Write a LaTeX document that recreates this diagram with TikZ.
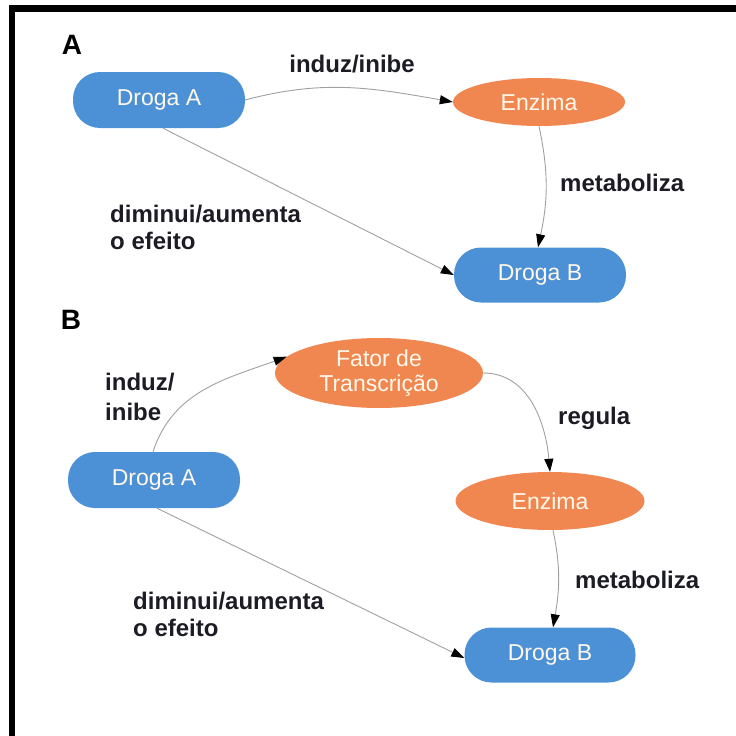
\documentclass[tikz,border=0pt]{standalone}
\usepackage{fontspec}
\setmainfont{Liberation Sans}
\usetikzlibrary{arrows.meta,shapes.geometric}
\definecolor{bluenode}{RGB}{76,145,213}
\definecolor{orangenode}{RGB}{240,135,80}
\definecolor{edgegray}{RGB}{160,160,160}
\definecolor{nodetext}{RGB}{255,248,235}
\definecolor{labeltext}{RGB}{28,28,36}
\tikzset{
  pill/.style={rectangle, rounded corners=27pt, fill=bluenode, draw=none, text=nodetext,
    font=\fontsize{23}{25}\selectfont, inner sep=0pt},
  oval/.style={ellipse, fill=orangenode, draw=none, text=nodetext,
    font=\fontsize{23}{25}\selectfont, inner sep=0pt, align=center},
  lbl/.style={text=labeltext, font=\bfseries\fontsize{24}{27}\selectfont, inner sep=0pt},
  big/.style={text=black, font=\bfseries\fontsize{28}{30}\selectfont, inner sep=0pt},
  edge/.style={draw=edgegray, line width=0.9pt, -{Triangle[length=13pt,width=9pt,color=black]}}
}
\begin{document}
\begin{tikzpicture}[x=1pt,y=1pt]
\useasboundingbox (0,0) rectangle (736,-736);
\fill[black] (9,-5) rectangle (736,-12);
\fill[black] (9,-5) rectangle (15,-736);

% ---- Panel A
\node[big] (labA) at (72,-45) {A};
\node[pill, minimum width=172pt, minimum height=56pt] (DA1) at (159,-100) {Droga A};
\node[oval, minimum width=172pt, minimum height=48pt] (EZ1) at (539,-102) {Enzima};
\node[pill, minimum width=172pt, minimum height=55pt] (DB1) at (540,-275) {Droga B};
\node[lbl] (ind1) at (352,-64) {induz/inibe};
\node[lbl, anchor=west] (met1) at (560,-183) {metaboliza};
\node[lbl, anchor=west, align=left] (dim1) at (110,-227) {diminui/aumenta\\o efeito};

\draw[edge] (DA1.east) to[out=15,in=170] (EZ1.west);
\draw[edge] (EZ1.south) to[out=-78,in=78] ([xshift=-2pt]DB1.north);
\draw[edge] ([xshift=4pt]DA1.south) -- (DB1.west);

% ---- Panel B
\node[big] (labB) at (71,-320) {B};
\node[oval, minimum width=208pt, minimum height=70pt] (FT) at (379,-373) {Fator de\\Transcrição};
\node[pill, minimum width=172pt, minimum height=56pt] (DA2) at (154,-480) {Droga A};
\node[oval, minimum width=189pt, minimum height=58pt] (EZ2) at (550,-501) {Enzima};
\node[pill, minimum width=171pt, minimum height=55pt] (DB2) at (550,-655) {Droga B};
\node[lbl, anchor=west, align=left, font=\bfseries\fontsize{24}{30}\selectfont] (ind2) at (105,-397) {induz/\\inibe};
\node[lbl, anchor=west] (reg) at (558,-418) {regula};
\node[lbl, anchor=west] (met2) at (575,-580) {metaboliza};
\node[lbl, anchor=west, align=left] (dim2) at (133,-614) {diminui/aumenta\\o efeito};

\draw[edge] ([xshift=-1pt]DA2.north) to[out=72,in=200] (FT.170);
\draw[edge] (FT.east) to[out=0,in=95] (EZ2.north);
\draw[edge] ([xshift=3pt]EZ2.south) to[out=-78,in=80] ([xshift=3pt]DB2.north);
\draw[edge] ([xshift=3pt]DA2.south) -- ([yshift=-3pt]DB2.west);
\end{tikzpicture}
\end{document}
